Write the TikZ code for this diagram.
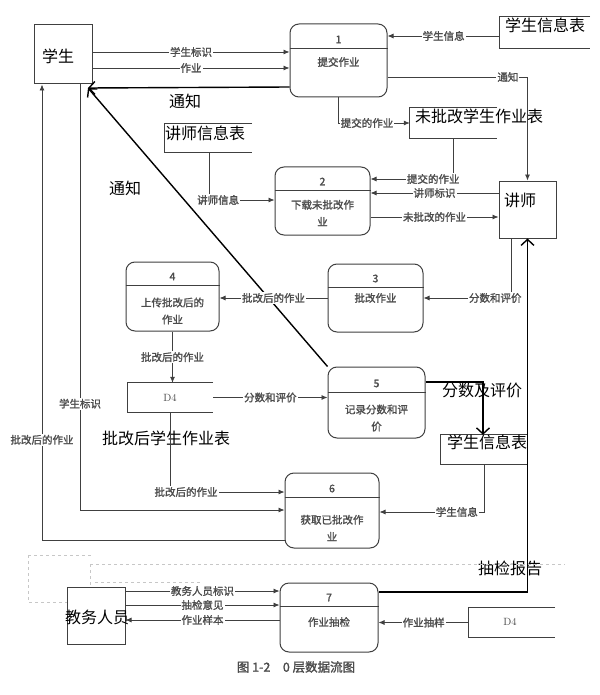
\documentclass[tikz,border=0pt]{standalone}
\usepackage{fontspec}
\newfontfamily\cjk{Noto Sans CJK SC}
\newfontfamily\cjkb[FakeBold=1.6]{Noto Sans CJK SC}
\usetikzlibrary{arrows.meta,calc}
\newcommand\myproc[9]{%
  \node[procbox, minimum width=#4pt, minimum height=#5pt] (#1) at (#2,#3) {};
  \draw[scan] (#1.west |- 0,#6) -- (#1.east |- 0,#6);
  \node[ptext] at (#2,#6-8.5) {#7};
  \node[ptext] at (#2,#9) {#8};
}
\begin{document}
\begin{tikzpicture}[x=1pt,y=-1pt,
  scan/.style={draw=black!75, line width=0.8pt},
  flow/.style={scan, -{Latex[length=6pt,width=5pt]}},
  lbl/.style={fill=white, inner sep=1pt, font=\cjkb\fontsize{10.5}{11}\selectfont, text=black!70},
  bigtxt/.style={font=\cjk\fontsize{16}{18}\selectfont, text=black, inner sep=0pt},
  procbox/.style={draw=black!75, line width=1pt, rounded corners=9pt, inner sep=0pt},
  ent/.style={draw=black!75, line width=1pt, inner sep=0pt},
  store/.style={inner sep=0pt},
  ptext/.style={font=\cjkb\fontsize{10.5}{17}\selectfont, text=black!70, align=center, inner sep=0pt},
  dtext/.style={font=\fontsize{10.5}{12}\selectfont, text=black!70, inner sep=0pt},
  over/.style={draw=black, line width=1.4pt},
  oarrow/.style={over, -{Straight Barb[length=6pt,width=13pt,line width=1.4pt]}},
  faint/.style={draw=black!22, dashed, line width=0.6pt}
]
\fill[white] (0,0) rectangle (599,695);
\useasboundingbox (0,0) rectangle (599,695);

% ---------- processes ----------
\myproc{p1}{338.5}{60.5}{97}{73}{48}{1}{提交作业}{62}
\myproc{p2}{322.5}{201}{95}{68}{190}{2}{下载未批改作\\业}{213}
\myproc{p3}{375.5}{298}{95}{68}{287}{3}{批改作业}{298}
\myproc{p4}{172.5}{296.5}{93}{69}{285}{4}{上传批改后的\\作业}{311}
\myproc{p5}{376.5}{402.5}{97}{71}{392}{5}{记录分数和评\\价}{418}
\myproc{p6}{332}{510.5}{94}{75}{497}{6}{获取已批改作\\业}{528}
\myproc{p7}{329}{617.5}{98}{69}{606}{7}{作业抽检}{622}

% ---------- external entities ----------
\node[ent, minimum width=58pt, minimum height=59pt] (stu) at (63,54.5) {};
\node[bigtxt] at (58,56) {学生};
\node[ent, minimum width=57pt, minimum height=57pt] (tch) at (527.5,209.5) {};
\node[bigtxt] at (520,200) {讲师};
\node[ent, minimum width=58pt, minimum height=57pt] (jw) at (96,615.5) {};
\node[bigtxt] at (97,617) {教务人员};

% ---------- data stores ----------
\node[store, minimum width=90pt, minimum height=31pt] (d2a) at (545,32.5) {};
\draw[scan] (d2a.north east) -| (d2a.south west) -- (d2a.south east);
\node[bigtxt] at (545,25) {学生信息表};

\node[store, minimum width=87pt, minimum height=30pt] (d1) at (453.5,123) {};
\draw[scan] (d1.north east) -| (d1.south west) -- (d1.south east);
\node[bigtxt] at (479,116) {未批改学生作业表};

\node[store, minimum width=87pt, minimum height=28pt] (tinfo) at (208.5,138) {};
\draw[scan] (tinfo.north east) -| (tinfo.south west) -- (tinfo.south east);
\node[bigtxt] at (205,133) {讲师信息表};

\node[store, minimum width=85pt, minimum height=29pt] (d4m) at (170.5,397.5) {};
\draw[scan] (d4m.north east) -| (d4m.south west) -- (d4m.south east);
\node[dtext] at (170,398) {D4};
\node[bigtxt] at (166,438) {批改后学生作业表};

\node[store, minimum width=86pt, minimum height=29pt] (d2b) at (484,449.5) {};
\draw[scan] (d2b.north east) -| (d2b.south west) -- (d2b.south east);
\node[bigtxt] at (487,442) {学生信息表};

\node[store, minimum width=86pt, minimum height=29pt] (d4b) at (512,622.5) {};
\draw[scan] (d4b.north east) -| (d4b.south west) -- (d4b.south east);
\node[dtext] at (510,622) {D4};

\coordinate (stuc) at (88,88);

% ---------- flows ----------
\draw[flow] (stu.east |- 0,52) -- (p1.west |- 0,52) node[lbl, midway] {学生标识};
\draw[flow] (stu.east |- 0,68) -- (p1.west |- 0,68) node[lbl, midway] {作业};
\draw[oarrow] (p1.west |- 0,87) -- (stuc);
\node[bigtxt] at (185,101) {通知};

\draw[flow] (d2a.west |- 0,36) -- (p1.east |- 0,36) node[lbl, midway] {学生信息};
\draw[flow] (p1.east |- 0,77) -| (tch.north) node[lbl, pos=0.43] {通知};
\draw[flow] (p1.south) |- (d1.west) node[lbl, pos=0.70] {提交的作业};
\draw[flow] (d1.south -| 453,0) |- (p2.east |- 0,179) node[lbl, pos=0.62] {提交的作业};
\draw[flow] (tch.west |- 0,193) -- (p2.east |- 0,193) node[lbl, midway] {讲师标识};
\draw[flow] (p2.east |- 0,217) -- (tch.west |- 0,217) node[lbl, midway] {未批改的作业};
\draw[flow] (tinfo.south -| 209,0) |- (p2.west |- 0,200) node[lbl, pos=0.57] {讲师信息};

\draw[oarrow] (p5.north west) -- (stuc);
\node[bigtxt] at (125,188) {通知};

\draw[flow] (p3.west) -- (p4.east |- p3.west) node[lbl, midway] {批改后的作业};
\draw[flow] (tch.south -| 511,0) |- (p3.east) node[lbl, pos=0.59] {分数和评价};
\draw[oarrow] (p7.east |- 0,592) -| (tch.south);
\node[bigtxt] at (510,568) {抽检报告};

\draw[flow] (p4.south) -- (d4m.north -| p4.south) node[lbl, midway] {批改后的作业};
\draw[flow] (d4m.east) -- (p5.west |- d4m.east) node[lbl, midway] {分数和评价};
\draw[oarrow] (p5.east |- 0,382) -| (d2b.north -| 483,0);
\node[bigtxt] at (482,390) {分数及评价};
\draw[flow] (d2b.south -| 484,0) |- (p6.east |- 0,512) node[lbl, pos=0.63] {学生信息};
\draw[flow] (d4m.south -| 170,0) |- (p6.west |- 0,492) node[lbl, pos=0.57] {批改后的作业};
\draw[flow] (stu.south -| 80,0) |- (p6.west |- 0,510) node[lbl, pos=0.375] {学生标识};
\draw[flow] (p6.west |- 0,540) -| (stu.south -| 42,0) node[lbl, pos=0.61] {批改后的作业};

\draw[flow] (jw.east |- 0,591) -- (p7.west |- 0,591) node[lbl, midway] {教务人员标识};
\draw[flow] (jw.east |- 0,605) -- (p7.west |- 0,605) node[lbl, midway] {抽检意见};
\draw[flow] (p7.west |- 0,620) -- (jw.east |- 0,620) node[lbl, midway] {作业样本};
\draw[flow] (d4b.west) -- (p7.east |- d4b.west) node[lbl, midway] {作业抽样};

% ---------- faint scan remnants ----------
\draw[faint] (90,564) -- (565,564);
\draw[faint] (90,564) -- (jw.north -| 90,0);
\draw[faint] (95,582) -- (200,582);
\draw[faint] (28,555) -- (92,555);
\draw[faint] (28,555) -- (28,602) -- (jw.west |- 0,602);

% ---------- caption ----------
\node[font=\cjkb\fontsize{12.5}{14}\selectfont, text=black!70] (cap) at (296,667) {图 1-2\quad 0 层数据流图};
\end{tikzpicture}
\end{document}
